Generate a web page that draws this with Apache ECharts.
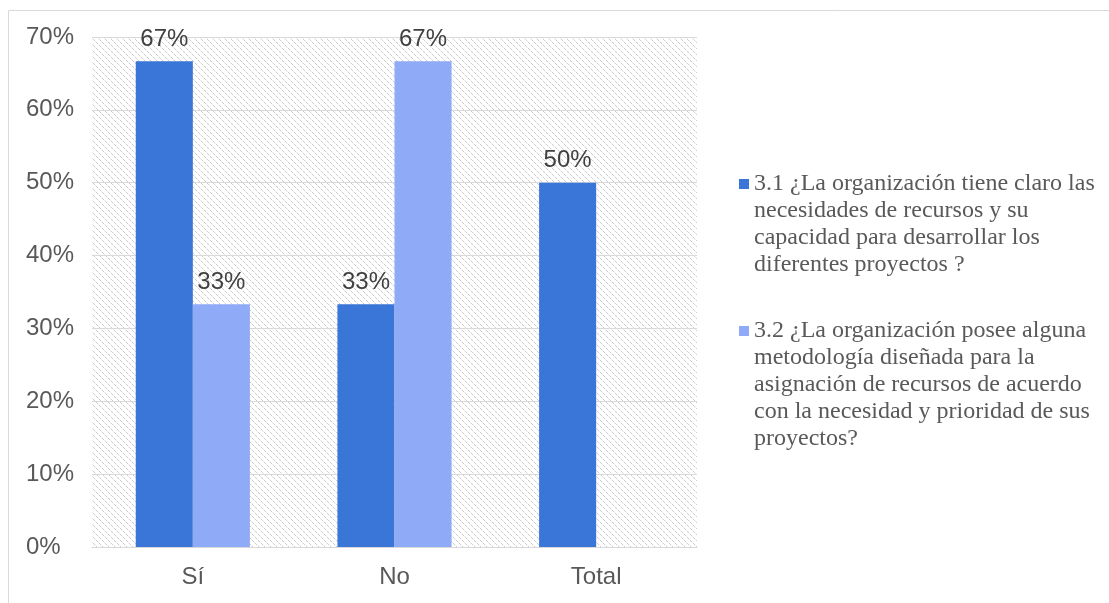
<!DOCTYPE html>
<html>
<head>
<meta charset="utf-8">
<script src="https://cdn.jsdelivr.net/npm/echarts@6/dist/echarts.min.js"></script>
<style>
html,body{margin:0;padding:0;background:#fff;}
#main{width:1109px;height:603px;}
</style>
</head>
<body>
<div id="main"></div>
<script>
var categories = ['Sí', 'No', 'Total'];
var seriesNames = [
  '3.1 ¿La organización tiene claro las\nnecesidades de recursos y su\ncapacidad para desarrollar los\ndiferentes proyectos ?',
  '3.2 ¿La organización posee alguna\nmetodología diseñada para la\nasignación de recursos de acuerdo\ncon la necesidad y prioridad de sus\nproyectos?'
];
var series1 = [0.6667, 0.3333, 0.5];
var series2 = [0.3333, 0.6667, null];
var yTicks = [0, 0.1, 0.2, 0.3, 0.4, 0.5, 0.6, 0.7];

var tile = document.createElement('canvas');
tile.width = 6; tile.height = 6;
var tctx = tile.getContext('2d');
tctx.fillStyle = '#ffffff';
tctx.fillRect(0, 0, 6, 6);
tctx.fillStyle = '#cccccc';
tctx.fillRect(0, 0, 1, 1);
tctx.fillRect(1, 1, 1, 1);
tctx.fillRect(3, 3, 1, 1);
tctx.fillRect(4, 4, 1, 1);
tctx.fillStyle = '#ebebeb';
tctx.fillRect(2, 2, 1, 1);
tctx.fillRect(5, 5, 1, 1);

// shift text block so the first line sits beside the legend icon
function topAlign(name) {
  var n = name.split('\n').length;
  return new Array(n).join('\n') + name;
}

var chart = echarts.init(document.getElementById('main'), null, {renderer: 'canvas'});
var pctLabel = function (p) { return Math.round(p.value * 100) + '%'; };
var legendText = {fontFamily: 'Liberation Serif', fontSize: 24, color: '#595959', lineHeight: 27};
var option = {
  animation: false,
  backgroundColor: '#ffffff',
  graphic: [{
    type: 'rect', left: 6, top: 8,
    shape: {width: 1200, height: 700},
    style: {fill: 'none', stroke: '#d9d9d9', lineWidth: 1}
  }],
  grid: {
    left: 92, right: 412, top: 37, bottom: 56,
    show: true, borderWidth: 0,
    backgroundColor: {image: tile, repeat: 'repeat'}
  },
  legend: [{
    data: [seriesNames[0]],
    orient: 'vertical', left: 739, top: 89.5, padding: 0,
    itemWidth: 10, itemHeight: 10, icon: 'rect', itemGap: 0,
    formatter: topAlign,
    textStyle: legendText
  }, {
    data: [seriesNames[1]],
    orient: 'vertical', left: 739, top: 209.5, padding: 0,
    itemWidth: 10, itemHeight: 10, icon: 'rect', itemGap: 0,
    formatter: topAlign,
    textStyle: legendText
  }],
  xAxis: {
    type: 'category', data: categories,
    axisLine: {lineStyle: {color: '#d9d9d9', width: 1}},
    axisTick: {show: false},
    axisLabel: {fontFamily: 'Liberation Sans', fontSize: 24, color: '#595959', margin: 18}
  },
  yAxis: {
    type: 'value', min: 0, max: 0.7, interval: 0.1,
    axisLine: {show: false}, axisTick: {show: false},
    splitLine: {lineStyle: {color: '#d9d9d9', width: 1}},
    axisLabel: {
      fontFamily: 'Liberation Sans', fontSize: 24, color: '#595959', margin: 66, align: 'left',
      formatter: function (v) { return Math.round(v * 100) + '%'; }
    }
  },
  series: [{
    name: seriesNames[0], type: 'bar', data: series1,
    barWidth: '28.3%', barGap: '0%',
    itemStyle: {color: '#3a75d8'},
    label: {show: true, position: 'top', distance: 10, formatter: pctLabel,
      fontFamily: 'Liberation Sans', fontSize: 24, color: '#404040'}
  }, {
    name: seriesNames[1], type: 'bar', data: series2,
    barWidth: '28.3%', barGap: '0%',
    itemStyle: {color: '#8faaf6'},
    label: {show: true, position: 'top', distance: 10, formatter: pctLabel,
      fontFamily: 'Liberation Sans', fontSize: 24, color: '#404040'}
  }]
};
chart.setOption(option);
</script>
</body>
</html>
